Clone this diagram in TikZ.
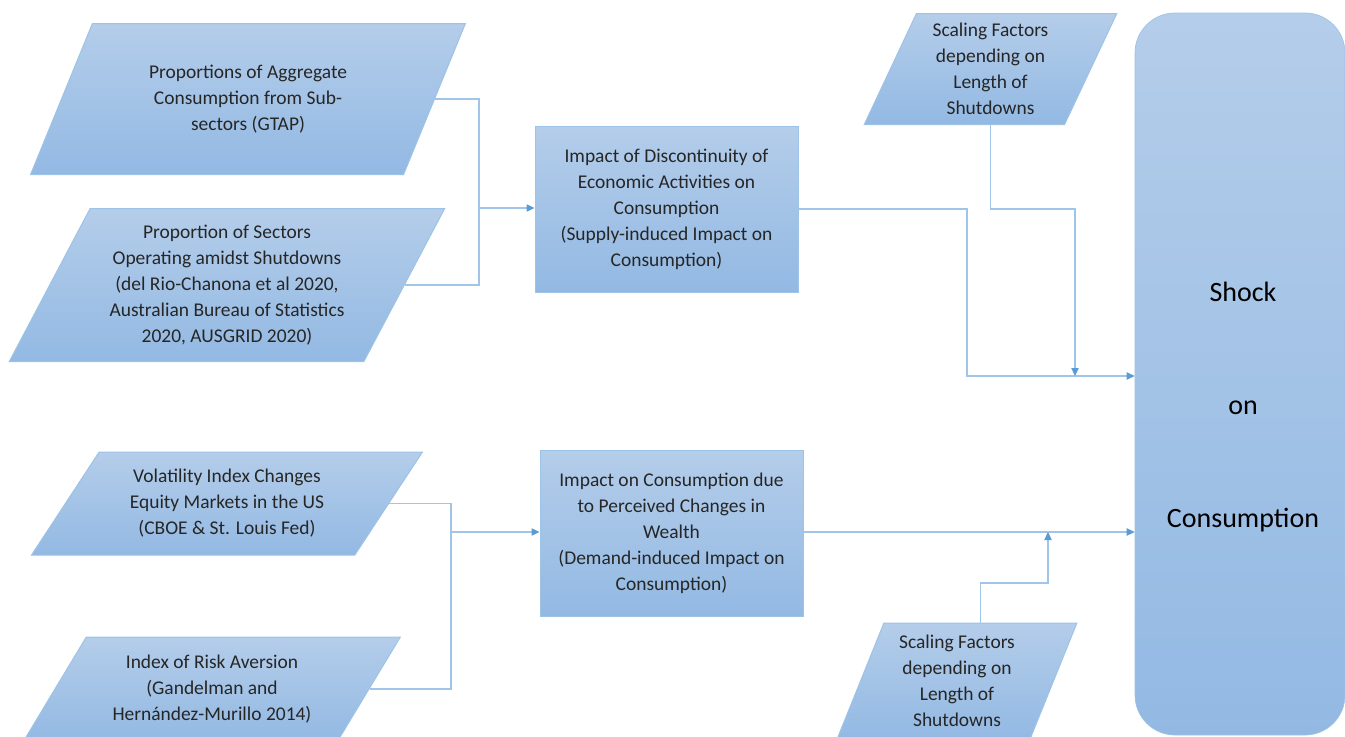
\documentclass[tikz,border=0pt]{standalone}
\usepackage{fontspec}
\setmainfont{Carlito}
\usetikzlibrary{shapes.geometric,arrows.meta}

\definecolor{edgeblue}{RGB}{157,195,230}
\definecolor{filltop}{RGB}{180,205,234}
\definecolor{fillbot}{RGB}{147,185,227}
\definecolor{linkblue}{RGB}{160,197,233}
\definecolor{tipblue}{RGB}{91,155,213}
\definecolor{textgray}{RGB}{38,38,38}

\newcommand{\bodyfont}{\fontsize{14.6}{19.5}\selectfont}
\newcommand{\bigfont}{\fontsize{21}{84.4}\selectfont}

\tikzset{
  para/.style={trapezium, trapezium stretches=true, draw=edgeblue, line width=0.75pt,
    top color=filltop, bottom color=fillbot, align=center, text=textgray,
    font=\bodyfont, inner sep=0pt},
  procbox/.style={rectangle, draw=edgeblue, line width=0.75pt, top color=filltop,
    bottom color=fillbot, align=center, text=textgray, font=\bodyfont,
    minimum width=197.25pt, minimum height=124.5pt, inner sep=0pt},
  shockbox/.style={rectangle, rounded corners=30pt, draw=edgeblue, line width=0.5pt,
    top color=filltop, bottom color=fillbot, minimum width=157.5pt, minimum height=541.5pt},
  link/.style={draw=linkblue, line width=0.9pt},
  arr/.style={link, -{Triangle[length=6pt,width=5.5pt,color=tipblue]}}
}

\begin{document}
\begin{tikzpicture}[x=0.75pt,y=-0.75pt]
  \clip (0,0) rectangle (1345,736);
  \fill[white] (0,0) rectangle (1345,736);

  % supply side inputs
  \node[para, trapezium left angle=60, trapezium right angle=120,
    minimum width=327pt, minimum height=113.25pt] (gtap) at (248,99)
    {Proportions of Aggregate\\Consumption from Sub-\\sectors (GTAP)};
  \node[para, trapezium left angle=60, trapezium right angle=120,
    minimum width=327.75pt, minimum height=114.75pt] (sectors) at (227,285)
    {Proportion of Sectors\\Operating amidst Shutdowns\\(del Rio-Chanona et al 2020,\\Australian Bureau of Statistics\\2020, AUSGRID 2020)};
  \node[procbox] (supply) at (666.5,209)
    {Impact of Discontinuity of\\Economic Activities on\\Consumption\\(Supply-induced Impact on\\Consumption)};
  \node[para, trapezium left angle=66, trapezium right angle=114,
    minimum width=189.75pt, minimum height=83.25pt] (scaletop) at (990.5,69)
    {Scaling Factors\\depending on\\Length of\\Shutdowns};

  % demand side inputs
  \node[para, trapezium left angle=53, trapezium right angle=127,
    minimum width=293.25pt, minimum height=77.25pt] (vix) at (227,503.5)
    {Volatility Index Changes\\Equity Markets in the US\\(CBOE \& St. Louis Fed)};
  \node[para, trapezium left angle=54, trapezium right angle=126,
    minimum width=282.75pt, minimum height=78pt] (risk) at (212,689)
    {Index of Risk Aversion\\(Gandelman and\\Hernández-Murillo 2014)};
  \node[procbox] (demand) at (671.5,533)
    {Impact on Consumption due\\to Perceived Changes in\\Wealth\\(Demand-induced Impact on\\Consumption)};
  \node[para, trapezium left angle=68, trapezium right angle=112,
    minimum width=180pt, minimum height=87pt] (scalebot) at (957,681)
    {Scaling Factors\\depending on\\Length of\\Shutdowns};

  % output
  \node[shockbox] (shock) at (1240,374) {};
  \node[align=center, text=black, font=\bigfont] (shocktext) at (1243,407)
    {Shock\\on\\Consumption};

  % connectors
  \coordinate (j1) at (479,208);
  \coordinate (j2) at (451,532);
  \coordinate (c1) at (967,376);
  \coordinate (k1) at (1075,209);
  \coordinate (k2) at (1048,583);

  \draw[link] (gtap.east) -| (j1);
  \draw[link] (sectors.east) -| (j1);
  \draw[arr] (j1) -- (supply.west |- j1);
  \draw[arr] (supply.east) -| (c1) -- (c1 -| shock.west);
  \draw[arr] (scaletop.south) |- (k1) -- (k1 |- c1);

  \draw[link] (vix.east) -| (j2);
  \draw[link] (risk.east) -| (j2);
  \draw[arr] (j2) -- (demand.west |- j2);
  \draw[arr] (demand.east |- j2) -- (j2 -| shock.west);
  \draw[arr] (scalebot.top side) |- (k2) -- (k2 |- j2);
\end{tikzpicture}
\end{document}
